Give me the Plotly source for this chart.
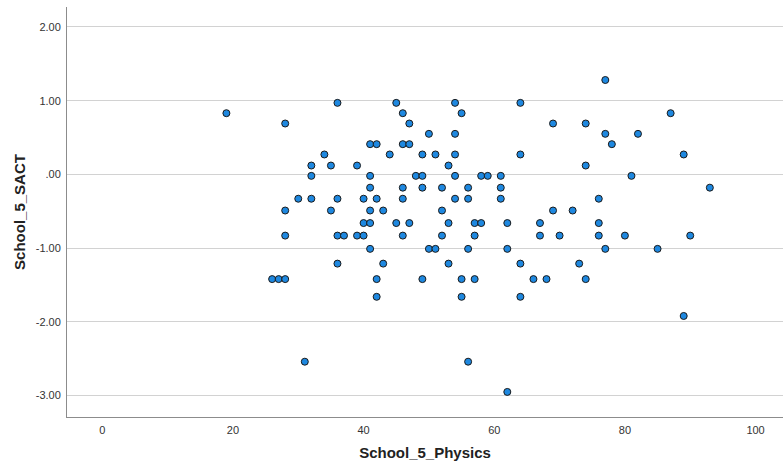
import plotly.graph_objects as go

# Physics score per student
physics = [
    19, 28, 36, 45, 41, 42, 34, 44, 32, 35, 39, 32, 41, 41,
    30, 32, 36, 40, 42, 28, 35, 41, 43, 40, 41, 45,
    28, 36, 37, 39, 40, 41, 36, 43, 26, 27, 28, 42, 42, 31,
    54, 64, 46, 55, 47, 69, 50, 54, 46, 47, 49, 51, 54, 64, 53,
    48, 49, 54, 58, 59, 61, 46, 49, 52, 56, 61, 46, 54, 56, 61,
    52, 69, 72, 47, 53, 57, 58, 62, 67, 46, 52, 57, 67, 70,
    50, 51, 56, 62, 53, 64, 73, 49, 55, 57, 66, 68, 55, 64, 56, 62,
    77, 87, 74, 77, 82, 78, 89, 74, 81, 93, 76, 76, 76, 80, 90,
    77, 85, 74, 89,
]

# Standardised SACT score per student
sact = [
    0.83, 0.69, 0.97, 0.97, 0.41, 0.41, 0.27, 0.27, 0.12, 0.12, 0.12, -0.02, -0.02, -0.18,
    -0.33, -0.33, -0.33, -0.33, -0.33, -0.49, -0.49, -0.49, -0.49, -0.66, -0.66, -0.66,
    -0.83, -0.83, -0.83, -0.83, -0.83, -1.01, -1.21, -1.21, -1.42, -1.42, -1.42, -1.42, -1.66, -2.54,
    0.97, 0.97, 0.83, 0.83, 0.69, 0.69, 0.55, 0.55, 0.41, 0.41, 0.27, 0.27, 0.27, 0.27, 0.12,
    -0.02, -0.02, -0.02, -0.02, -0.02, -0.02, -0.18, -0.18, -0.18, -0.18, -0.18, -0.33, -0.33, -0.33, -0.33,
    -0.49, -0.49, -0.49, -0.66, -0.66, -0.66, -0.66, -0.66, -0.66, -0.83, -0.83, -0.83, -0.83, -0.83,
    -1.01, -1.01, -1.01, -1.01, -1.21, -1.21, -1.21, -1.42, -1.42, -1.42, -1.42, -1.42, -1.66, -1.66, -2.54, -2.95,
    1.28, 0.83, 0.69, 0.55, 0.55, 0.41, 0.27, 0.12, -0.02, -0.18, -0.33, -0.66, -0.83, -0.83, -0.83,
    -1.01, -1.01, -1.42, -1.92,
]

x_ticks = [0, 20, 40, 60, 80, 100]
y_ticks = [2, 1, 0, -1, -2, -3]
y_tick_labels = ["2.00", "1.00", ".00", "-1.00", "-2.00", "-3.00"]

fig = go.Figure()
fig.add_trace(go.Scatter(
    x=physics,
    y=sact,
    mode="markers",
    marker=dict(size=7, color="#1e88e0", line=dict(color="#1a1a1a", width=1)),
    showlegend=False,
))

font_family = "Liberation Sans, Arial, sans-serif"

fig.update_layout(
    width=783,
    height=468,
    margin=dict(l=67, r=0, t=7, b=51),
    paper_bgcolor="white",
    plot_bgcolor="white",
    font=dict(family=font_family, color="#333333", size=11),
    xaxis=dict(
        range=[-5.4, 104.2],
        tickvals=x_ticks,
        ticktext=[str(v) for v in x_ticks],
        showgrid=False,
        zeroline=False,
        showline=True,
        linecolor="#8c8c8c",
        linewidth=1,
        ticks="",
        ticklabelstandoff=3,
        tickfont=dict(size=11, color="#333333"),
        title=dict(text="<b>School_5_Physics</b>", font=dict(size=15, color="#222222"), standoff=12),
    ),
    yaxis=dict(
        range=[-3.29, 2.27],
        tickvals=y_ticks,
        ticktext=y_tick_labels,
        showgrid=True,
        gridcolor="#d2d2d2",
        gridwidth=1,
        zeroline=False,
        showline=True,
        linecolor="#8c8c8c",
        linewidth=1,
        ticks="",
        ticklabelstandoff=3,
        tickfont=dict(size=11, color="#333333"),
        title=dict(text="<b>School_5_SACT</b>", font=dict(size=15, color="#222222"), standoff=6),
    ),
)

fig.write_html("out.html")
